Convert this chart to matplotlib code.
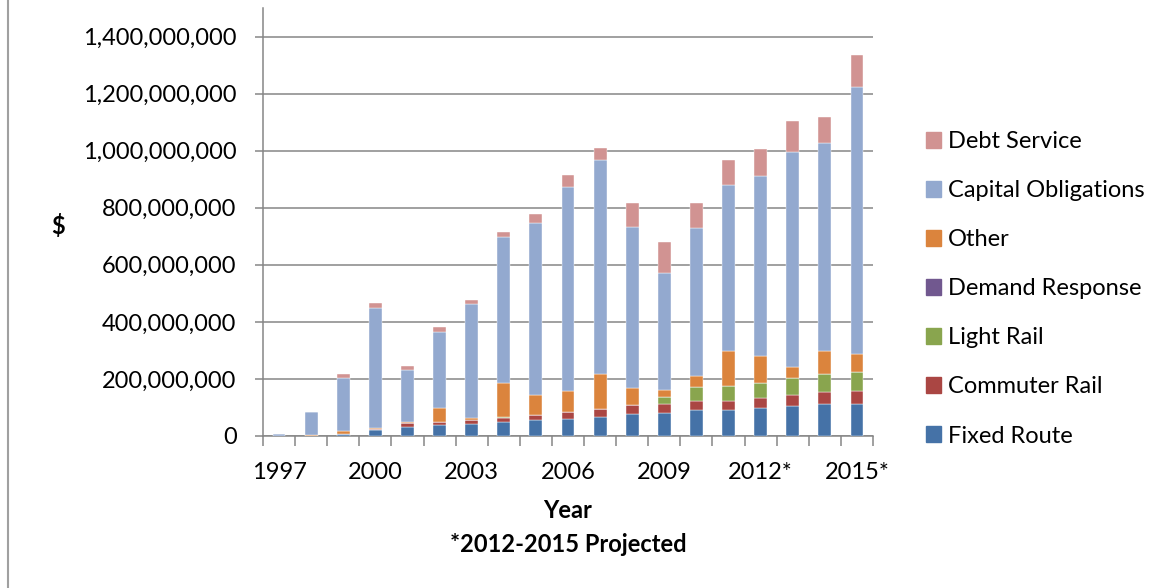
import matplotlib
matplotlib.use('Agg')
import matplotlib.pyplot as plt
import numpy as np
from matplotlib.patches import Rectangle
from matplotlib.lines import Line2D
from matplotlib.ticker import FuncFormatter

plt.rcParams['font.family'] = ['Lato', 'DejaVu Sans']

# Data (millions of $)
years = ['1997', '1998', '1999', '2000', '2001', '2002', '2003', '2004', '2005',
         '2006', '2007', '2008', '2009', '2010', '2011', '2012*', '2013*',
         '2014*', '2015*']
fixed_route = [0, 0, 6, 20, 33, 37, 42, 48, 55, 61, 68, 78, 80, 92, 92, 97, 104, 111, 113]
commuter_rail = [0, 0, 0, 5, 11, 12, 14, 16, 20, 22, 25, 30, 33, 32, 32, 35, 38, 42, 45]
light_rail = [0, 0, 0, 0, 0, 0, 0, 2, 0, 0, 3, 2, 24, 46, 50, 54, 62, 66, 68]
demand_response = [0] * 19
other = [0, 4, 11, 3, 4, 48, 8, 120, 67, 75, 122, 59, 25, 39, 125, 95, 38, 80, 62]
capital_obligations = [7, 79, 187, 422, 182, 267, 397, 512, 605, 713, 751, 562, 411,
                       519, 580, 631, 754, 729, 936]
debt_service = [0, 0, 12, 15, 17, 18, 16, 16, 31, 42, 41, 84, 106, 87, 89, 94, 108, 89, 110]

series = [('Fixed Route', fixed_route, '#4572A7'),
          ('Commuter Rail', commuter_rail, '#AA4643'),
          ('Light Rail', light_rail, '#89A54E'),
          ('Demand Response', demand_response, '#71588F'),
          ('Other', other, '#DB843D'),
          ('Capital Obligations', capital_obligations, '#93A9CF'),
          ('Debt Service', debt_service, '#D19392')]

fs = 17
fig = plt.figure(figsize=(11.67, 5.88), dpi=100)
ax = fig.add_axes([263 / 1167, 1 - 436 / 588, 610 / 1167, 428 / 588])

x = np.arange(len(years))
bottom = np.zeros(len(years))
handles = []
for name, vals, col in series:
    v = np.array(vals) * 1e6
    ax.bar(x, v, 0.4, bottom=bottom, color=col, edgecolor='white', linewidth=0.3, zorder=3)
    bottom += v
    handles.append(Rectangle((0, 0), 1, 1, color=col, label=name))

grid_col = '#868686'
ax.set_ylim(0, 1.5e9)
ax.set_xlim(-0.5, len(years) - 0.5)
ax.set_yticks(np.arange(0, 1.41e9, 2e8))
ax.yaxis.set_major_formatter(FuncFormatter(lambda v, p: '{:,.0f}'.format(v)))
ax.yaxis.grid(True, color=grid_col, linewidth=1.1, zorder=0)
ax.set_axisbelow(True)

ax.set_xticks(x[::3])
ax.set_xticklabels(years[::3])
ax.set_xticks(np.arange(-0.5, len(years), 1), minor=True)
ax.tick_params(axis='x', which='major', length=0, pad=19, labelsize=fs)
ax.tick_params(axis='x', which='minor', length=7, width=1.1, color=grid_col)
ax.tick_params(axis='y', length=6, width=1.1, color=grid_col, pad=13, labelsize=fs)

for s in ['top', 'right']:
    ax.spines[s].set_visible(False)
for s in ['left', 'bottom']:
    ax.spines[s].set_color(grid_col)
    ax.spines[s].set_linewidth(1.1)

fig.text(58 / 1167, 1 - 226 / 588, '$', fontsize=fs, fontweight='bold', ha='center', va='center')
fig.text(568 / 1167, 1 - 511 / 588, 'Year', fontsize=fs, fontweight='bold', ha='center', va='center')
fig.text(568 / 1167, 1 - 545 / 588, '*2012-2015 Projected', fontsize=fs, fontweight='bold',
         ha='center', va='center')

fig.legend(handles=handles[::-1], loc='upper left', bbox_to_anchor=(926 / 1167, 1 - 131 / 588),
           frameon=False, fontsize=fs, handlelength=0.64, handleheight=0.64,
           handletextpad=0.28, labelspacing=1.19, borderpad=0, borderaxespad=0)

# chart border on the left
fig.add_artist(Line2D([8 / 1167, 8 / 1167], [0, 1], color='#a0a0a0', linewidth=1.5))

fig.savefig('out.png', dpi=100)
